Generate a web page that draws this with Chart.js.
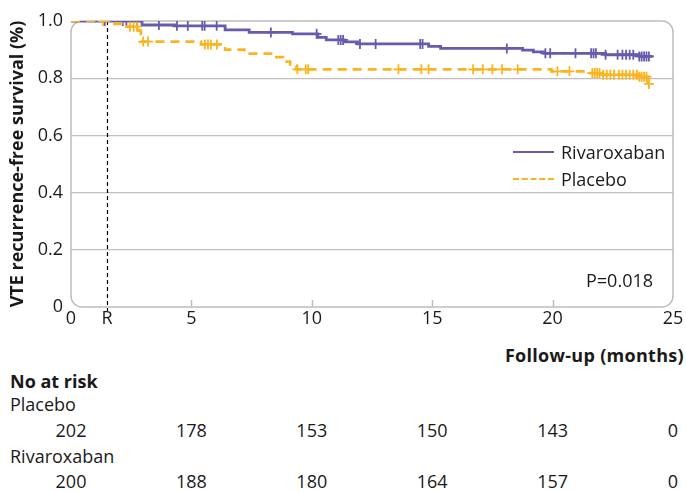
<!DOCTYPE html>
<html>
<head>
<meta charset="utf-8">
<script src="https://cdn.jsdelivr.net/npm/chart.js@4.4.0/dist/chart.umd.min.js"></script>
<style>
  html, body { margin: 0; padding: 0; background: #fff; }
  #wrap { position: relative; width: 686px; height: 492px; font-family: "Open Sans", sans-serif; color: #1a1a1a; overflow: hidden; }
  #chart { position: absolute; left: 0; top: 0; }
  .txt { position: absolute; font-size: 18px; line-height: 20px; white-space: nowrap; }
  .bold { font-weight: bold; }
  .num { transform: translateX(-50%); }
  .swatch { position: absolute; width: 41px; height: 0; }
</style>
</head>
<body>
<div id="wrap">
  <canvas id="chart" width="686" height="340"></canvas>

  <div class="swatch" style="left:513px; top:151px; border-top:2.5px solid #6a5aad;"></div>
  <div class="txt" style="left:561px; top:142px;">Rivaroxaban</div>
  <div class="swatch" style="left:513px; top:178px; border-top:2.5px dashed #fbb41f;"></div>
  <div class="txt" style="left:561px; top:169px;">Placebo</div>
  <div class="txt" style="left:586px; top:270px;">P=0.018</div>

  <div class="txt bold" style="right:2px; top:345px; letter-spacing:0.3px;">Follow-up (months)</div>
  <div class="txt bold" style="left:10px; top:371px;">No at risk</div>
  <div class="txt" style="left:10px; top:394px;">Placebo</div>
  <div class="txt" style="left:10px; top:446px;">Rivaroxaban</div>
  <div id="riskRows"></div>
</div>

<script>
// ---------------------------------------------------------------------------
// Data
// ---------------------------------------------------------------------------
// Kaplan-Meier event steps: time (months) and survival after the step
const rivaTimes = [0, 2.95, 4.3, 6.4, 7.4, 9.2, 10.25, 10.6, 11.35, 11.9, 14.85, 15.35, 18.75, 19.2, 19.65, 22.2, 23.6, 24.15];
const rivaSurv  = [1, 0.986, 0.983, 0.969, 0.96, 0.955, 0.943, 0.934, 0.927, 0.92, 0.911, 0.904, 0.898, 0.892, 0.887, 0.882, 0.876, 0.876];
const rivaCensored = [1.4, 2.15, 2.3, 2.75, 3.65, 4.4, 4.85, 5.45, 5.55, 6.05, 8.3, 10.2, 11.1, 11.2, 11.3, 12.0, 12.65,
    14.5, 14.6, 18.1, 19.7, 19.9, 20.95, 21.6, 21.7, 21.8, 22.2, 22.7, 22.9, 23.05, 23.2, 23.35, 23.6, 23.7, 23.8, 23.9, 24.0];

const placTimes = [0, 1.6, 2.1, 2.8, 2.9, 5.4, 6.4, 7.2, 8.4, 8.8, 9.1, 9.35, 19.95, 21.45, 22.05, 23.55, 23.95, 24.0];
const placSurv  = [1, 0.99, 0.98, 0.966, 0.928, 0.918, 0.9, 0.886, 0.874, 0.858, 0.842, 0.831, 0.824, 0.818, 0.812, 0.805, 0.78, 0.78];
const placCensored = [1.33, 2.45, 2.6, 2.74, 3.0, 3.2, 5.56, 5.69, 5.81, 6.06, 9.4, 9.75, 9.85, 13.6, 14.55, 14.85,
    16.7, 17.1, 17.5, 17.9, 18.55, 20.2, 20.7, 21.65, 21.75, 21.85, 21.95, 22.1, 22.25, 22.4,
    22.55, 22.75, 22.9, 23.05, 23.2, 23.35, 23.5, 23.6, 23.7, 23.8, 23.9, 24.0];

const xTickValues = [0, 1.5, 5, 10, 15, 20, 25];
const randomisation = 1.5;
const innerTickMarks = [5, 10, 15, 20];

const riskTimes = [0, 5, 10, 15, 20, 25];
const riskPlacebo = [202, 178, 153, 150, 143, 0];
const riskRiva = [200, 188, 180, 164, 157, 0];

const PURPLE = '#6a5aad';
const ORANGE = '#fbb41f';
const FONT = '"Open Sans", sans-serif';

// ---------------------------------------------------------------------------
// Helpers
// ---------------------------------------------------------------------------
function toPoints(times, surv) {
    return times.map((t, i) => ({ x: t, y: surv[i] }));
}

// survival of a step curve at time t (value of last step at or before t)
function survivalAt(times, surv, t) {
    let s = surv[0];
    for (let i = 0; i < times.length; i++) {
        if (times[i] <= t) s = surv[i];
    }
    return s;
}

function censorPoints(times, surv, censored) {
    return censored.map(t => ({ x: t, y: survivalAt(times, surv, t) }));
}

// rounded plot frame, inner x tick marks and the dashed randomisation line
const framePlugin = {
    id: 'frame',
    beforeDatasetsDraw(chart) {
        const { ctx, chartArea: a, scales: { x } } = chart;
        ctx.save();
        ctx.strokeStyle = '#bdbdbd';
        ctx.lineWidth = 1.5;
        ctx.beginPath();
        ctx.roundRect(a.left, a.top, a.right - a.left, a.bottom - a.top, 11);
        ctx.stroke();

        ctx.beginPath();
        innerTickMarks.forEach(v => {
            const px = Math.round(x.getPixelForValue(v)) + 0.5;
            ctx.moveTo(px, a.bottom);
            ctx.lineTo(px, a.bottom - 7);
        });
        ctx.stroke();

        const rx = Math.round(x.getPixelForValue(randomisation)) + 0.5;
        ctx.strokeStyle = '#000';
        ctx.lineWidth = 1.2;
        ctx.setLineDash([4, 3]);
        ctx.beginPath();
        ctx.moveTo(rx, a.top);
        ctx.lineTo(rx, a.bottom + 4);
        ctx.stroke();
        ctx.restore();
    }
};

// ---------------------------------------------------------------------------
// Chart
// ---------------------------------------------------------------------------
const chart = new Chart(document.getElementById('chart').getContext('2d'), {
    type: 'line',
    data: {
        datasets: [
            {
                label: 'Placebo',
                data: toPoints(placTimes, placSurv),
                stepped: true,
                borderColor: ORANGE,
                borderWidth: 2.7,
                borderDash: [9, 6],
                pointRadius: 0,
                fill: false
            },
            {
                label: 'Placebo censored',
                data: censorPoints(placTimes, placSurv, placCensored),
                showLine: false,
                pointStyle: 'cross',
                pointRadius: 5,
                pointBorderWidth: 1.8,
                borderColor: ORANGE,
                backgroundColor: ORANGE
            },
            {
                label: 'Rivaroxaban',
                data: toPoints(rivaTimes, rivaSurv),
                stepped: true,
                borderColor: PURPLE,
                borderWidth: 2.8,
                pointRadius: 0,
                fill: false
            },
            {
                label: 'Rivaroxaban censored',
                data: censorPoints(rivaTimes, rivaSurv, rivaCensored),
                showLine: false,
                pointStyle: 'cross',
                pointRadius: 5,
                pointBorderWidth: 1.8,
                borderColor: PURPLE,
                backgroundColor: PURPLE
            }
        ]
    },
    options: {
        responsive: false,
        animation: false,
        layout: { padding: { top: 21, right: 13, left: 0, bottom: 0 } },
        plugins: {
            legend: { display: false },
            tooltip: { enabled: false }
        },
        scales: {
            x: {
                type: 'linear',
                min: 0,
                max: 25,
                afterBuildTicks: scale => { scale.ticks = xTickValues.map(v => ({ value: v })); },
                afterFit: scale => { scale.height = 33; },
                grid: { display: false, drawTicks: false },
                border: { display: false },
                ticks: {
                    padding: 1,
                    color: '#1a1a1a',
                    font: { family: FONT, size: 18 },
                    callback: v => (v === randomisation ? 'R' : String(v))
                }
            },
            y: {
                min: 0,
                max: 1,
                afterFit: scale => { scale.width = 71; },
                grid: {
                    drawTicks: false,
                    lineWidth: 1.2,
                    color: ctx => (ctx.tick && (ctx.tick.value === 0 || ctx.tick.value === 1)) ? 'rgba(0,0,0,0)' : '#bfbfbf'
                },
                border: { display: false },
                ticks: {
                    stepSize: 0.2,
                    padding: 8,
                    color: '#1a1a1a',
                    font: { family: FONT, size: 18 },
                    callback: v => (v === 0 ? '0' : v.toFixed(1))
                },
                title: {
                    display: true,
                    text: 'VTE recurrence-free survival (%)',
                    color: '#1a1a1a',
                    padding: { top: 7, bottom: 0 },
                    font: { family: FONT, size: 18, weight: 'bold' }
                }
            }
        }
    },
    plugins: [framePlugin]
});

// ---------------------------------------------------------------------------
// Number at risk table, aligned to the x scale
// ---------------------------------------------------------------------------
function renderRiskRow(values, top) {
    const holder = document.getElementById('riskRows');
    values.forEach((v, i) => {
        const el = document.createElement('div');
        el.className = 'txt num';
        el.style.top = top + 'px';
        el.style.left = chart.scales.x.getPixelForValue(riskTimes[i]) + 'px';
        el.textContent = v;
        holder.appendChild(el);
    });
}

renderRiskRow(riskPlacebo, 420);
renderRiskRow(riskRiva, 471);
</script>
</body>
</html>
